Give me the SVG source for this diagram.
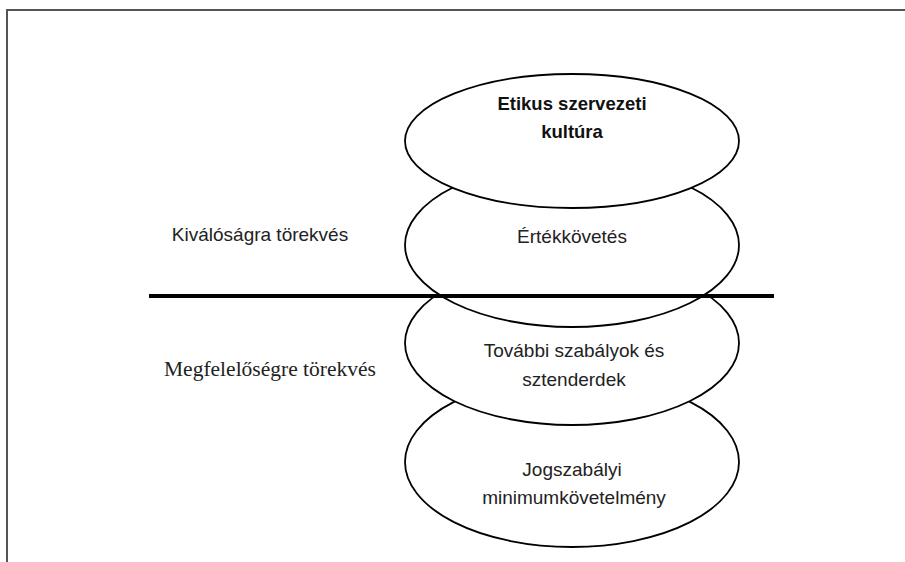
<svg xmlns="http://www.w3.org/2000/svg" width="905" height="562" viewBox="0 0 905 562">
<style>
.frame{fill:none;stroke:#555;stroke-width:2}
.ell{fill:#fff;stroke:#000;stroke-width:1.8}
.t{font-family:"Liberation Sans",Arial,sans-serif;font-size:19px;fill:#222;text-anchor:middle}
.b{font-weight:bold;font-size:18.5px;fill:#111}
.s{font-family:"Liberation Serif","Times New Roman",serif;font-size:21.5px;fill:#222}
</style>
<rect width="905" height="562" fill="#fff"/>
<path class="frame" d="M7,570 V10 H910"/>
<g id="node-jogszabalyi">
<ellipse class="ell" cx="572" cy="462" rx="167" ry="85"/>
<text class="t" x="572" y="476">Jogszabályi</text>
<text class="t" x="574" y="504">minimumkövetelmény</text>
</g>
<g id="node-tovabbi">
<ellipse class="ell" cx="572" cy="343" rx="167" ry="82"/>
<text class="t" x="574" y="357">További szabályok és</text>
<text class="t" x="574" y="386">sztenderdek</text>
</g>
<g id="node-ertekkovetes">
<ellipse class="ell" cx="572" cy="245" rx="167" ry="82"/>
<text class="t" x="572" y="243">Értékkövetés</text>
</g>
<g id="node-etikus">
<ellipse class="ell" cx="572" cy="141" rx="167" ry="67"/>
<text class="t b" x="572" y="110">Etikus szervezeti</text>
<text class="t b" x="572" y="138">kultúra</text>
</g>
<g id="connectors">
<line x1="149" y1="296" x2="774" y2="296" stroke="#000" stroke-width="4"/>
</g>
<g id="labels">
<text class="t" x="260" y="241">Kiválóságra törekvés</text>
<text class="s" x="164" y="376">Megfelelőségre törekvés</text>
</g>
</svg>
